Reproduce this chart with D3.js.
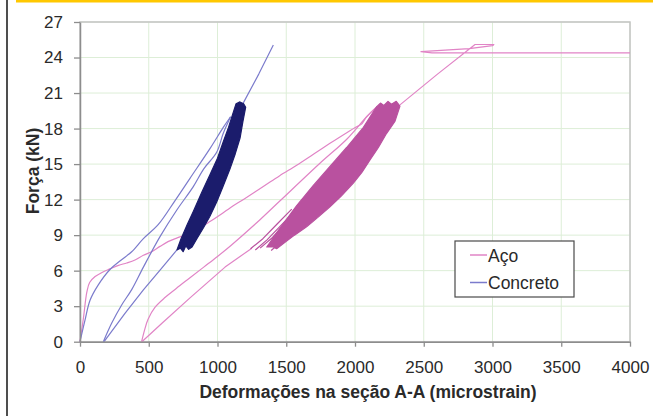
<!DOCTYPE html>
<html>
<head>
<meta charset="utf-8">
<script src="https://cdn.jsdelivr.net/npm/d3@7"></script>
<style>
  body { margin: 0; background: #fff; }
  svg { display: block; }
  text { font-family: "Liberation Sans", Arial, sans-serif; }
</style>
</head>
<body>
<svg id="chart" width="653" height="416"></svg>
<script>
// Axis ticks
const xTicks = [0, 500, 1000, 1500, 2000, 2500, 3000, 3500, 4000];
const yTicks = [0, 3, 6, 9, 12, 15, 18, 21, 24, 27];

// Series names (legend order)
const seriesNames = ["Aço", "Concreto"];

// Aço (steel) — points are [strain (microstrain), force (kN)]
const acoLoad = [
  [0, 0], [25, 2.0], [50, 4.2], [70, 5.0], [110, 5.5], [160, 5.85], [218, 6.15],
  [280, 6.45], [340, 6.65], [400, 6.9], [461, 7.3], [521, 7.6], [582, 8.05],
  [640, 8.45], [703, 8.75], [764, 9.0], [824, 9.3], [945, 10.15], [1042, 10.9],
  [1091, 11.3], [1200, 12.1], [1333, 13.1], [1450, 14.0], [1576, 14.9],
  [1700, 15.85], [1818, 16.75], [1940, 17.65], [2012, 18.15], [2045, 18.35],
  [2085, 19.0], [2160, 19.85]
];
const acoUnload = [
  [2160, 19.85], [2085, 19.0], [1940, 17.1], [1745, 15.07], [1455, 11.9],
  [1309, 10.3], [1100, 8.15], [1000, 7.2], [900, 6.3], [800, 5.4], [700, 4.5],
  [620, 3.75], [545, 2.9], [495, 1.9], [470, 1.0], [448, 0]
];
const acoReload = [
  [450, 0], [600, 1.6], [800, 3.7], [1055, 6.3], [1164, 7.2], [1250, 7.9]
];
const acoCycleBand = [
  [1358, 8.0], [1455, 9.6], [1576, 11.5], [1697, 13.2], [1818, 14.8],
  [1939, 16.4], [2061, 18.1], [2158, 19.85], [2185, 20.15], [2210, 19.95],
  [2240, 20.3], [2265, 20.05], [2300, 20.3], [2327, 19.9], [2290, 18.6],
  [2230, 17.6], [2170, 16.4], [2109, 15.35], [2050, 14.3], [1988, 13.4],
  [1900, 12.3], [1818, 11.4], [1730, 10.5], [1648, 9.7], [1560, 9.0],
  [1479, 8.3], [1430, 7.85], [1406, 8.0]
];
const acoEarlyCycles = [
  [[1240, 7.85], [1330, 8.7], [1430, 9.9], [1540, 11.2]],
  [[1275, 7.75], [1360, 8.6], [1460, 9.8], [1560, 11.0]],
  [[1310, 7.9], [1400, 8.8], [1500, 10.1]],
  [[1390, 7.7], [1450, 8.3], [1520, 9.1]]
];
const acoFinal = [
  [2327, 20.0], [2600, 22.6], [2873, 25.1], [3010, 25.1], [3000, 25.0],
  [2830, 24.75], [2480, 24.5], [2560, 24.4], [4000, 24.4]
];

// Concreto (concrete)
const concretoLoad = [
  [0, 0], [36, 1.8], [73, 3.5], [133, 4.8], [218, 6.1], [300, 6.9], [376, 7.6],
  [461, 8.7], [570, 9.9], [690, 11.9], [800, 13.8], [945, 16.3], [1042, 18.1],
  [1095, 19.0]
];
const concretoUnload = [
  [1095, 19.0], [1042, 17.6], [994, 16.0], [900, 14.6], [824, 13.1], [703, 11.1],
  [582, 8.87], [461, 6.3], [376, 4.4], [303, 3.1], [230, 1.55], [170, 0]
];
const concretoReload = [
  [175, 0], [327, 2.4], [461, 4.37], [582, 6.05], [705, 7.75]
];
const concretoCycleBand = [
  [705, 7.75], [735, 8.7], [780, 9.9], [824, 11.0], [885, 12.6], [945, 14.1],
  [1000, 15.5], [1042, 16.9], [1080, 18.1], [1110, 19.2], [1135, 20.1],
  [1160, 20.25], [1190, 20.1], [1205, 19.8], [1185, 18.6], [1164, 17.2],
  [1130, 15.9], [1091, 14.6], [1040, 13.1], [994, 11.8], [945, 10.6],
  [897, 9.6], [850, 8.7], [815, 8.0], [790, 7.8], [770, 8.1], [750, 7.6], [730, 7.9]
];
const concretoFinal = [
  [1180, 20.0], [1300, 22.6], [1406, 25.05]
];

const colors = {
  acoLine: "#e184c6",
  acoBand: "#b9519f",
  concretoLine: "#7b7bcc",
  concretoBand: "#1b1c6c",
  grid: "#ddeed7",
  plotBorder: "#c4c4c4",
  axis: "#8d8d8d",
  text: "#2a2a2a"
};

const svg = d3.select("#chart");
const plotLeft = 80, plotRight = 630, plotTop = 22, plotBottom = 341.7;

const x = d3.scaleLinear().domain([0, 4000]).range([plotLeft, plotRight]);
const y = d3.scaleLinear().domain([0, 27]).range([plotBottom, plotTop]);

// Page frame: yellow rule on top, dark rule on the left
svg.append("rect").attr("x", 16).attr("y", 0).attr("width", 637).attr("height", 2.5)
  .attr("fill", "#ffc800");
svg.append("line").attr("x1", 7).attr("x2", 7).attr("y1", 0).attr("y2", 416)
  .attr("stroke", "#222").attr("stroke-width", 1.6);

// Grid
const grid = svg.append("g");
grid.selectAll("line.v").data(xTicks.slice(1)).join("line")
  .attr("x1", d => x(d)).attr("x2", d => x(d))
  .attr("y1", plotTop).attr("y2", plotBottom)
  .attr("stroke", colors.grid).attr("stroke-width", 1);
grid.selectAll("line.h").data(yTicks.slice(1)).join("line")
  .attr("x1", plotLeft).attr("x2", plotRight)
  .attr("y1", d => y(d)).attr("y2", d => y(d))
  .attr("stroke", colors.grid).attr("stroke-width", 1);

// Plot area border
svg.append("rect").attr("x", plotLeft).attr("y", plotTop)
  .attr("width", plotRight - plotLeft).attr("height", plotBottom - plotTop)
  .attr("fill", "none").attr("stroke", colors.plotBorder).attr("stroke-width", 1.5);

const plot = svg.append("g");
const smooth = d3.line().x(d => x(d[0])).y(d => y(d[1])).curve(d3.curveCatmullRom.alpha(0.5));
const straight = d3.line().x(d => x(d[0])).y(d => y(d[1]));
const band = d3.line().x(d => x(d[0])).y(d => y(d[1])).curve(d3.curveLinearClosed);

function thin(data, color, gen) {
  plot.append("path").attr("d", gen(data))
    .attr("fill", "none").attr("stroke", color).attr("stroke-width", 1.2)
    .attr("stroke-linejoin", "round");
}
function filledBand(data, color) {
  plot.append("path").attr("d", band(data))
    .attr("fill", color).attr("stroke", color).attr("stroke-width", 1.2)
    .attr("stroke-linejoin", "round");
}

// Aço
thin(acoLoad, colors.acoLine, smooth);
thin(acoUnload, colors.acoLine, smooth);
thin(acoReload, colors.acoLine, straight);
thin(acoFinal, colors.acoLine, straight);
acoEarlyCycles.forEach(c => thin(c, colors.acoBand, straight));
filledBand(acoCycleBand, colors.acoBand);

// Concreto
thin(concretoLoad, colors.concretoLine, smooth);
thin(concretoUnload, colors.concretoLine, smooth);
thin(concretoReload, colors.concretoLine, straight);
thin(concretoFinal, colors.concretoLine, straight);
filledBand(concretoCycleBand, colors.concretoBand);

// Axes
const xAxis = svg.append("g").attr("transform", `translate(0,${plotBottom})`)
  .call(d3.axisBottom(x).tickValues(xTicks).tickFormat(d3.format("d"))
    .tickSize(5).tickPadding(14).tickSizeOuter(0));
const yAxis = svg.append("g").attr("transform", `translate(${plotLeft},0)`)
  .call(d3.axisLeft(y).tickValues(yTicks).tickFormat(d3.format("d"))
    .tickSize(6).tickPadding(11).tickSizeOuter(0));
[xAxis, yAxis].forEach(a => {
  a.select(".domain").attr("stroke", colors.axis).attr("stroke-width", 1.5);
  a.selectAll(".tick line").attr("stroke", colors.axis).attr("stroke-width", 1.3);
  a.selectAll(".tick text").attr("fill", colors.text)
    .style("font-size", "17px").style("font-family", "'Liberation Sans', Arial, sans-serif");
});

// Axis titles
svg.append("text").attr("x", 368).attr("y", 398).attr("text-anchor", "middle")
  .attr("fill", colors.text).style("font-size", "17.5px").style("font-weight", "bold")
  .text("Deformações na seção A-A (microstrain)");
svg.append("text").attr("transform", "translate(39,171) rotate(-90)").attr("text-anchor", "middle")
  .attr("fill", colors.text).style("font-size", "17.5px").style("font-weight", "bold")
  .text("Força (kN)");

// Legend
const legend = svg.append("g");
legend.append("rect").attr("x", 455).attr("y", 241).attr("width", 119).attr("height", 56)
  .attr("fill", "#fff").attr("stroke", "#4a4a4a").attr("stroke-width", 1.2);
const legendColors = [colors.acoLine, colors.concretoLine];
seriesNames.forEach((name, i) => {
  const ly = 255 + i * 27.5;
  legend.append("line").attr("x1", 470).attr("x2", 487).attr("y1", ly).attr("y2", ly)
    .attr("stroke", legendColors[i]).attr("stroke-width", 1.5);
  legend.append("text").attr("x", 488).attr("y", ly + 6.5).attr("fill", colors.text)
    .style("font-size", "17.5px").text(name);
});
</script>
</body>
</html>
